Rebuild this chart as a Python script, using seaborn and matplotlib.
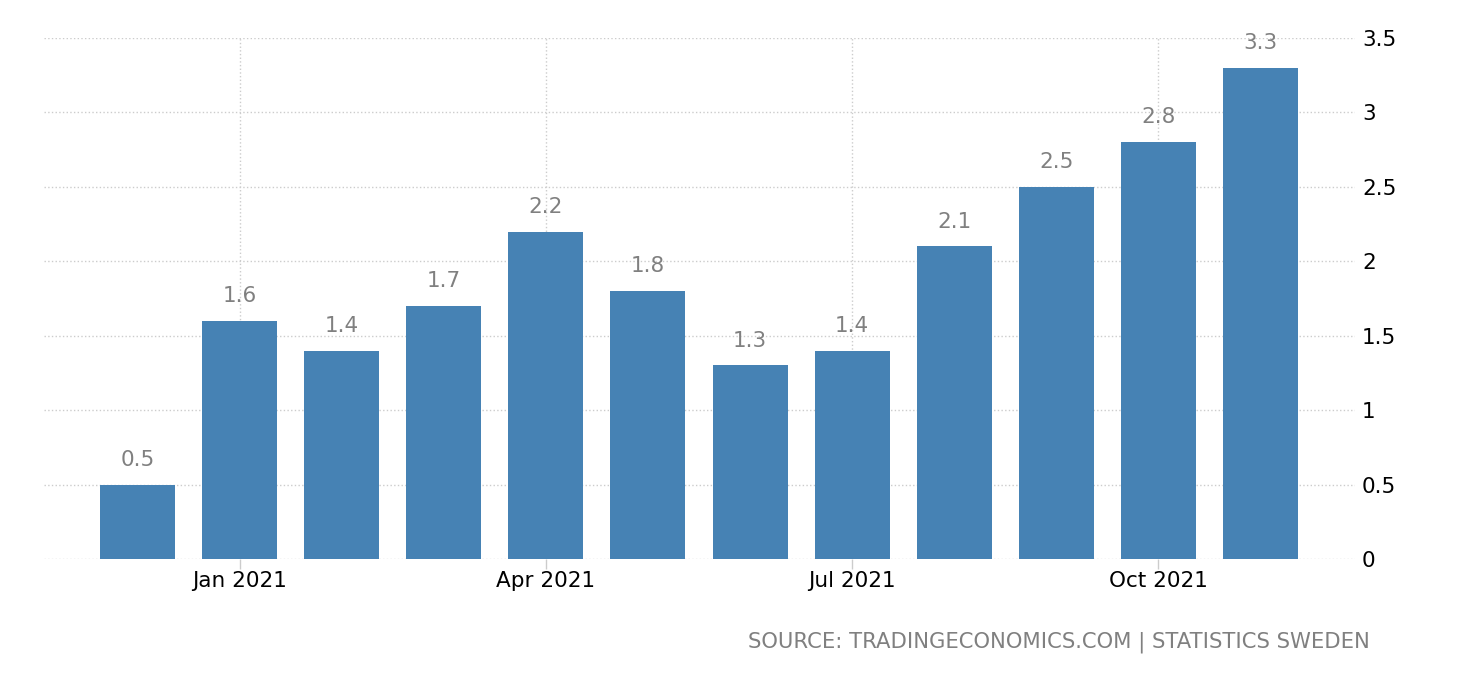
import matplotlib
matplotlib.use('Agg')
import matplotlib.pyplot as plt
import seaborn as sns
import pandas as pd

months = ['Dec 2020', 'Jan 2021', 'Feb 2021', 'Mar 2021', 'Apr 2021', 'May 2021',
          'Jun 2021', 'Jul 2021', 'Aug 2021', 'Sep 2021', 'Oct 2021', 'Nov 2021']
values = [0.5, 1.6, 1.4, 1.7, 2.2, 1.8, 1.3, 1.4, 2.1, 2.5, 2.8, 3.3]
shown_ticks = ['Jan 2021', 'Apr 2021', 'Jul 2021', 'Oct 2021']
yticks = [0, 0.5, 1, 1.5, 2, 2.5, 3, 3.5]
source = 'SOURCE: TRADINGECONOMICS.COM | STATISTICS SWEDEN'

df = pd.DataFrame({'month': months, 'value': values})

sns.set_theme(style='white')
plt.rcParams['font.family'] = ['DejaVu Sans']

fig = plt.figure(figsize=(14.6, 6.8), dpi=100)
ax = fig.add_axes([0.0301, 0.178, 0.898, 0.766])

sns.barplot(data=df, x='month', y='value', color='#4682b4', saturation=1,
            width=0.735, linewidth=0, ax=ax)

for i, v in enumerate(values):
    ax.text(i, v + 0.1, '{:g}'.format(v), ha='center', va='bottom',
            fontsize=15.5, color='#808080')

ax.set_xlim(-0.916, 11.925)
ax.set_ylim(0, 3.5)

tick_pos = [months.index(m) for m in shown_ticks]
ax.set_xticks(tick_pos)
ax.set_xticklabels(shown_ticks, fontsize=15.5, color='black')
ax.tick_params(axis='x', bottom=True, length=7, color='#cccccc', width=1, pad=2)

ax.yaxis.tick_right()
ax.set_yticks(yticks)
ax.set_yticklabels(['{:g}'.format(t) for t in yticks], fontsize=15.5, color='black')
ax.tick_params(axis='y', length=0, pad=5)

ax.grid(True, axis='both', color='#cccccc', linestyle=':', linewidth=1)
ax.set_axisbelow(True)
for s in ax.spines.values():
    s.set_visible(False)
ax.set_xlabel('')
ax.set_ylabel('')

fig.text(1370 / 1460, 1 - 642 / 680, source, ha='right', va='center',
         fontsize=15.2, color='#808080')

fig.savefig('out.png', dpi=100)
